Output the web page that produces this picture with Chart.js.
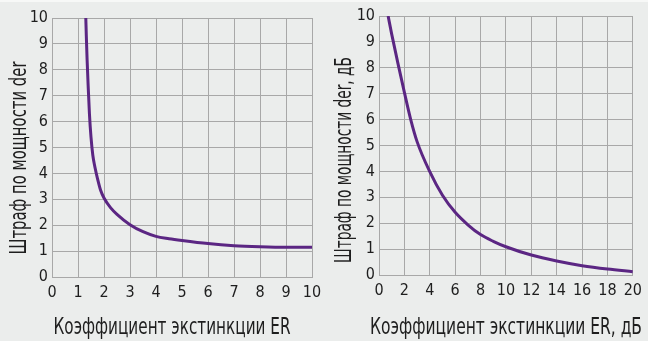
<!DOCTYPE html>
<html>
<head>
<meta charset="utf-8">
<script src="https://cdn.jsdelivr.net/npm/chart.js@4"></script>
<style>
  html, body { margin: 0; padding: 0; }
  #wrap {
    position: relative; width: 648px; height: 341px; overflow: hidden;
    background: linear-gradient(#f7f8f7 0 2px, #ebedec 2px);
  }
  #leftChart { position: absolute; left: 0; top: 0; }
  #rightChart { position: absolute; left: 330px; top: 0; }
</style>
</head>
<body>
<div id="wrap">
  <canvas id="leftChart" width="330" height="341"></canvas>
  <canvas id="rightChart" width="318" height="341"></canvas>
</div>
<script>
// Left plot: linear extinction ratio
const erLinear = [1.30, 1.32, 1.35, 1.39, 1.44, 1.50, 1.57, 1.65, 1.75, 1.87, 2.0, 2.25, 2.5, 3, 3.5, 4, 4.5, 5, 6, 7, 8, 9, 10];
const penaltyLinear = [10, 9.3, 8.4, 7.4, 6.3, 5.4, 4.7, 4.25, 3.8, 3.35, 3.05, 2.68, 2.42, 2.02, 1.75, 1.57, 1.48, 1.41, 1.29, 1.21, 1.17, 1.15, 1.15];

// Right plot: extinction ratio in dB
const erDb = [0.72, 1, 1.5, 2, 2.5, 3, 4, 5, 6, 7, 8, 9, 10, 12, 14, 16, 18, 20];
const penaltyDb = [10, 9.3, 8.15, 7.05, 6.0, 5.15, 3.99, 3.08, 2.42, 1.94, 1.56, 1.3, 1.09, 0.77, 0.54, 0.36, 0.23, 0.13];

const leftTitleX = 'Коэффициент экстинкции ER';
const leftTitleY = 'Штраф по мощности der';
const rightTitleX = 'Коэффициент экстинкции ER, дБ';
const rightTitleY = 'Штраф по мощности der, дБ';

const FONT = '"Liberation Sans Narrow", "DejaVu Sans Condensed", "Liberation Sans", sans-serif';
const TEXT = '#1e1e1e';
const GRID = '#a8a8a8';
const LINE = '#5b2683';

// axis titles in the original are a compressed face, so draw them squeezed to width
const narrowTitles = {
    id: 'narrowTitles',
    afterDraw(chart, args, opts) {
        const ctx = chart.ctx;
        ctx.save();
        ctx.fillStyle = TEXT;
        ctx.font = opts.size + 'px ' + FONT;
        ctx.textAlign = 'center';
        ctx.textBaseline = 'middle';
        const t = opts.x;
        ctx.fillText(t.text, t.cx, t.cy, t.w);
        const v = opts.y;
        ctx.translate(v.cx, v.cy);
        ctx.rotate(-Math.PI / 2);
        ctx.fillText(v.text, 0, 0, v.w);
        ctx.restore();
    }
};

function makeChart(id, xs, ys, opts) {
    const points = xs.map((x, i) => ({ x: x, y: ys[i] }));
    return new Chart(document.getElementById(id), {
        type: 'line',
        data: {
            datasets: [{
                data: points,
                borderColor: LINE,
                borderWidth: 3,
                pointRadius: 0,
                fill: false,
                cubicInterpolationMode: 'monotone'
            }]
        },
        plugins: [narrowTitles],
        options: {
            responsive: false,
            animation: false,
            devicePixelRatio: 1,
            layout: { padding: { top: opts.top, right: opts.right, left: 0, bottom: 0 } },
            plugins: {
                legend: { display: false },
                tooltip: { enabled: false },
                narrowTitles: { size: 23, x: opts.titleX, y: opts.titleY }
            },
            scales: {
                x: {
                    type: 'linear',
                    min: 0,
                    max: opts.xMax,
                    afterFit: s => { s.height = opts.xHeight; },
                    ticks: {
                        stepSize: opts.xStep,
                        padding: 6,
                        maxRotation: 0,
                        color: TEXT,
                        font: { family: FONT, size: 16 }
                    },
                    grid: { color: GRID, lineWidth: 1, drawTicks: false },
                    border: { color: GRID }
                },
                y: {
                    min: 0,
                    max: 10,
                    afterFit: s => { s.width = opts.yWidth; },
                    ticks: {
                        stepSize: 1,
                        padding: 4,
                        color: TEXT,
                        font: { family: FONT, size: 16 }
                    },
                    grid: { color: GRID, lineWidth: 1, drawTicks: false },
                    border: { color: GRID }
                }
            }
        }
    });
}

makeChart('leftChart', erLinear, penaltyLinear, {
    xMax: 10, xStep: 1, top: 18, right: 18, xHeight: 64, yWidth: 52,
    titleX: { text: leftTitleX, cx: 172, cy: 328, w: 237 },
    titleY: { text: leftTitleY, cx: 20, cy: 158, w: 193 }
});

makeChart('rightChart', erDb, penaltyDb, {
    xMax: 20, xStep: 2, top: 16, right: 10, xHeight: 66, yWidth: 49,
    titleX: { text: rightTitleX, cx: 176, cy: 328, w: 272 },
    titleY: { text: rightTitleY, cx: 15, cy: 160, w: 206 }
});
</script>
</body>
</html>
